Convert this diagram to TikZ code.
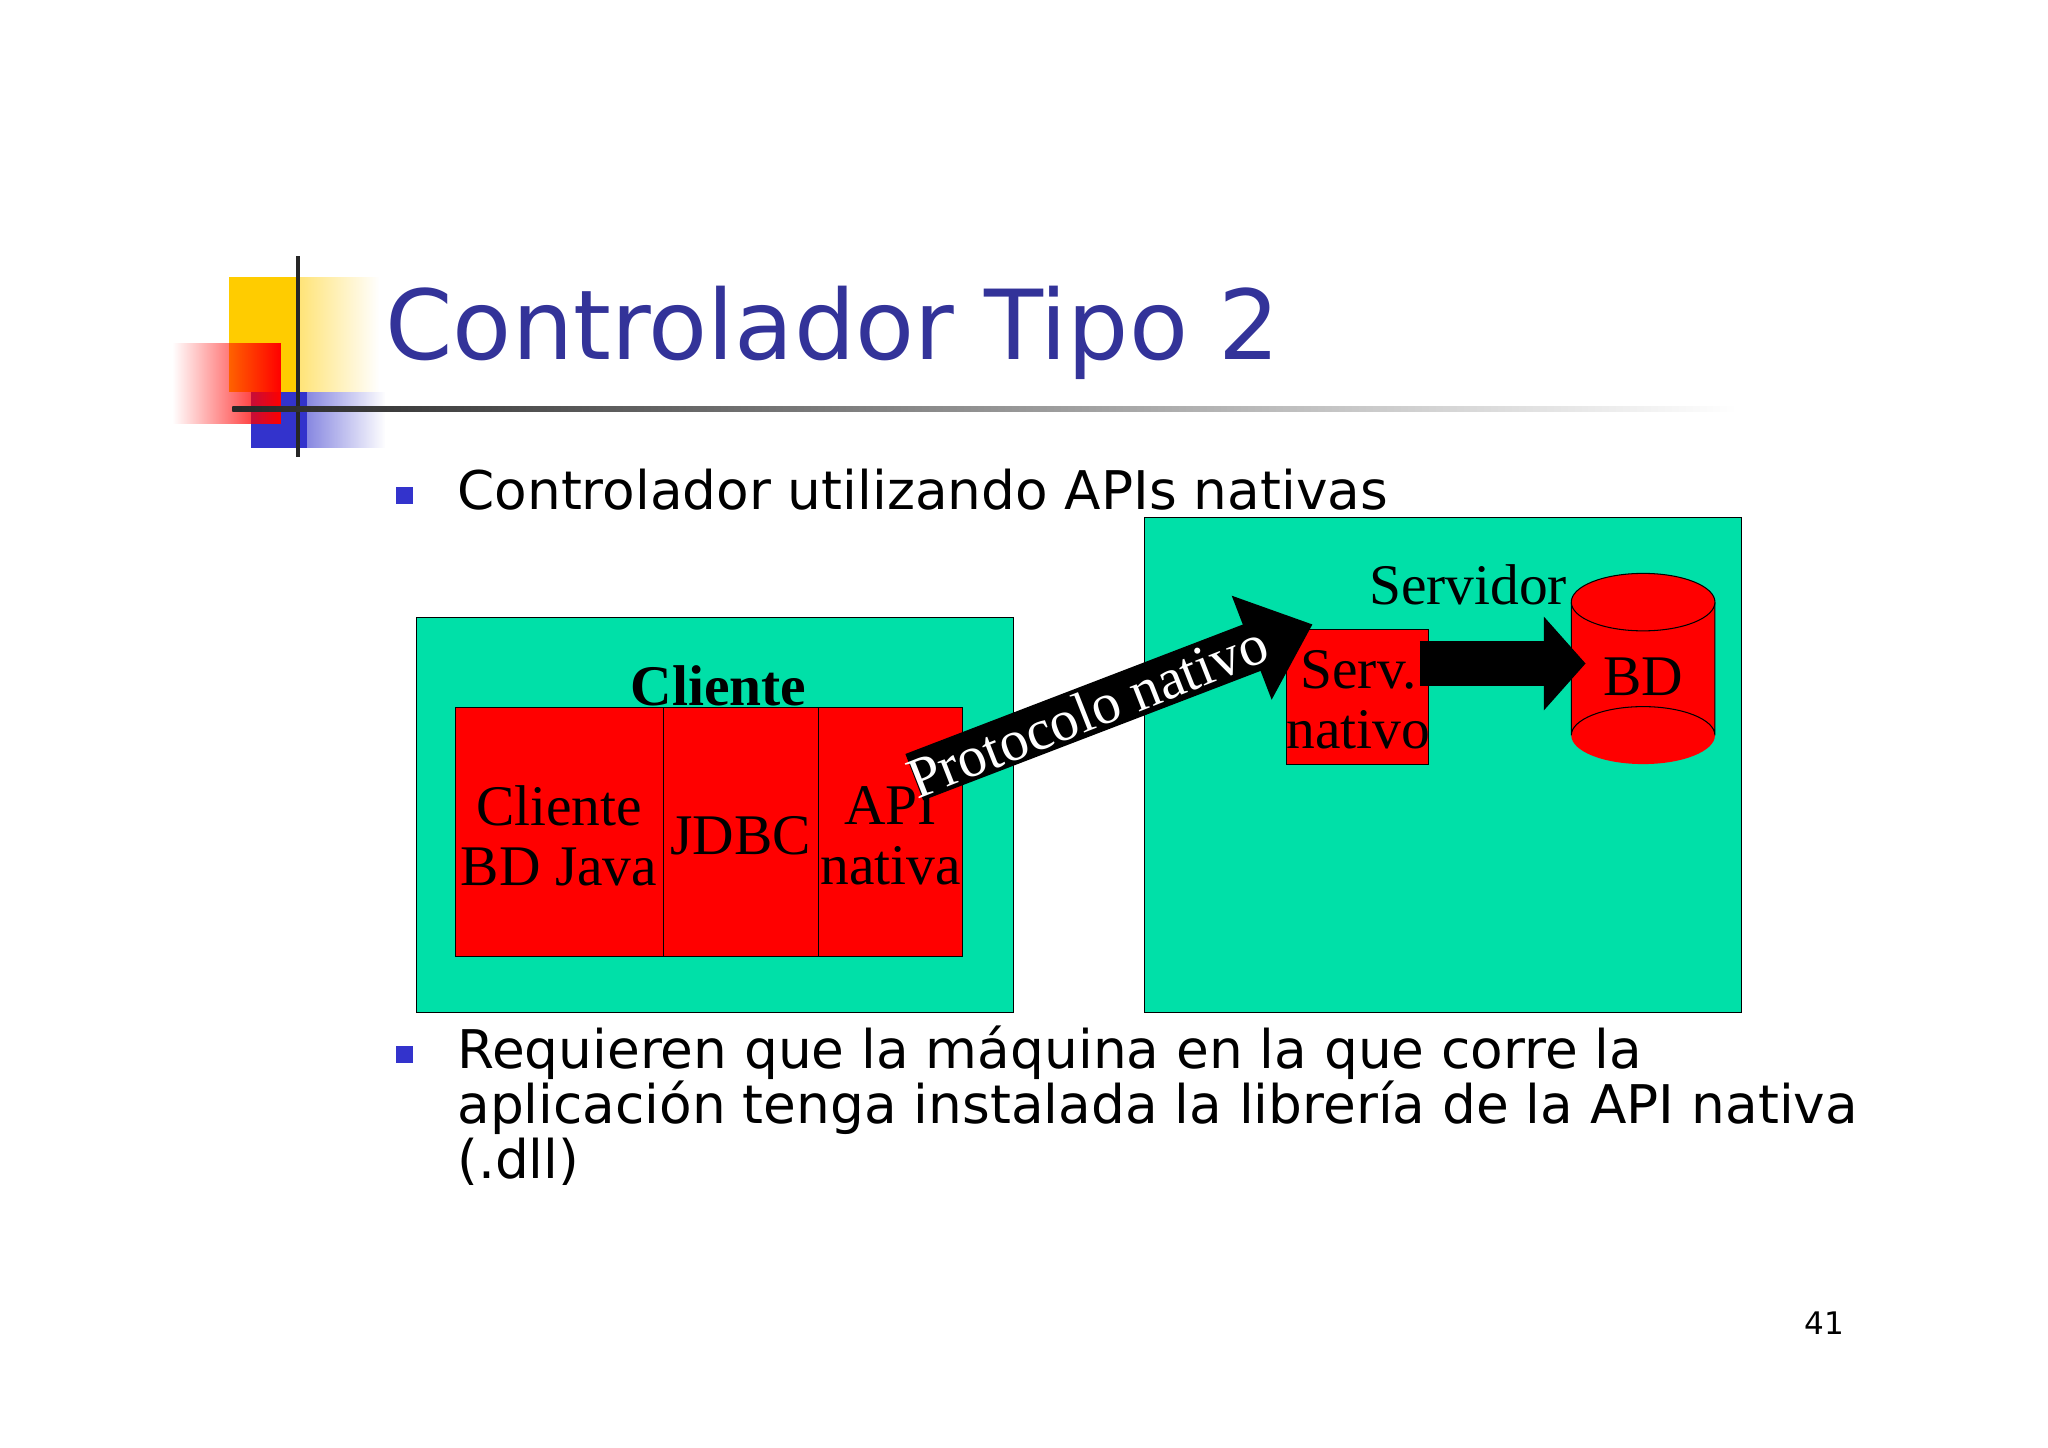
\documentclass[tikz,border=0pt]{standalone}
\usepackage{fontspec}
\setmainfont{Liberation Serif}
\newfontfamily\slidefont{DejaVu Sans}[Scale=0.85]
\usetikzlibrary{shapes.geometric,arrows.meta,fadings}
\definecolor{titleblue}{RGB}{51,51,153}
\definecolor{boxgreen}{RGB}{0,224,168}
\definecolor{bulletblue}{RGB}{51,51,204}
\definecolor{gold}{RGB}{255,204,0}
\tikzset{
  region/.style={draw=black,line width=0.8pt,fill=boxgreen},
  redbox/.style={draw=black,line width=0.8pt,fill=red},
  lbl/.style={font=\fontsize{44}{46}\selectfont,align=center,inner sep=0pt},
  bul/.style={fill=bulletblue,minimum size=13pt,inner sep=0pt},
  body/.style={font=\slidefont\fontsize{48}{42}\selectfont,anchor=base west,inner sep=0pt}
}
\begin{document}
\begin{tikzpicture}[x=1pt,y=-1pt]
\useasboundingbox[fill=white] (0,0) rectangle (1568,1108);
% logo
\fill[gold,path fading=east] (175,212) rectangle (290,300);
\fill[gold] (175,212) rectangle (230,300);
\fill[bulletblue,path fading=east] (192,300) rectangle (295,343);
\fill[bulletblue] (192,300) rectangle (235,343);
\fill[red,path fading=west] (132,263) rectangle (215,325);
\draw[line width=3pt,black!85] (228,196) -- (228,350);
\shade[left color=black!85,right color=white] (178,311.5) rectangle (1330,315);
\node[font=\slidefont\fontsize{87}{87}\selectfont,text=titleblue,anchor=base west,inner sep=0pt] (title) at (295,275) {Controlador Tipo 2};
% bullets
\node[bul] (b1) at (310,379) {};
\node[body] (t1) at (350,390) {Controlador utilizando APIs nativas};
\node[bul] (b2) at (310,807) {};
\node[body] (t2) at (350,818) {Requieren que la máquina en la que corre la};
\node[body] (t3) at (350,860) {aplicación tenga instalada la librería de la API nativa};
\node[body] (t4) at (350,902) {(.dll)};
\node[font=\slidefont\fontsize{28}{28}\selectfont,inner sep=0pt] (pg) at (1397,1013) {41};
% regions
\draw[region] (319,473) rectangle (776,775);
\draw[region] (876,396) rectangle (1333,775);
\node[lbl,font=\fontsize{44}{46}\selectfont\bfseries] (cli) at (550,525) {Cliente};
\draw[redbox] (349,542) rectangle (508,732);
\draw[redbox] (508,542) rectangle (627,732);
\draw[redbox] (627,542) rectangle (737,732);
\node[lbl] (c1) at (428,640) {Cliente\\BD Java};
\node[lbl] (c2) at (567,640) {JDBC};
\node[lbl] (c3) at (682,640) {API\\nativa};
\node[lbl] (srv) at (1124,448) {Servidor};
\draw[redbox] (985,482) rectangle (1094,585);
\node[lbl] (sn) at (1040,536) {Serv.\\nativo};
% cylinder
\fill[red] (1203,461) rectangle (1313,563);
\fill[red] (1258,563) ellipse (55 and 22);
\draw[line width=0.8pt] (1203,461) -- (1203,563) arc[start angle=180,end angle=360,x radius=55,y radius=22] -- (1313,461);
\draw[line width=0.8pt,fill=red] (1258,461) ellipse (55 and 22);
\node[lbl] (bd) at (1258,518) {BD};
% arrows
\coordinate (a1) at (1087,508);
\coordinate (a2) at (1214,508);
\draw[line width=34pt,-{Triangle[width=70pt,length=32pt]}] (a1) -- (a2);
\coordinate (p1) at (700,595);
\coordinate (p2) at (1005,478);
\draw[line width=38pt,-{Triangle[width=82pt,length=50pt]}] (p1) -- (p2);
\node[lbl,text=white,rotate=21.5,anchor=base west,font=\fontsize{44}{44}\selectfont] (proto) at (702,612) {Protocolo nativo};
\end{tikzpicture}
\end{document}
